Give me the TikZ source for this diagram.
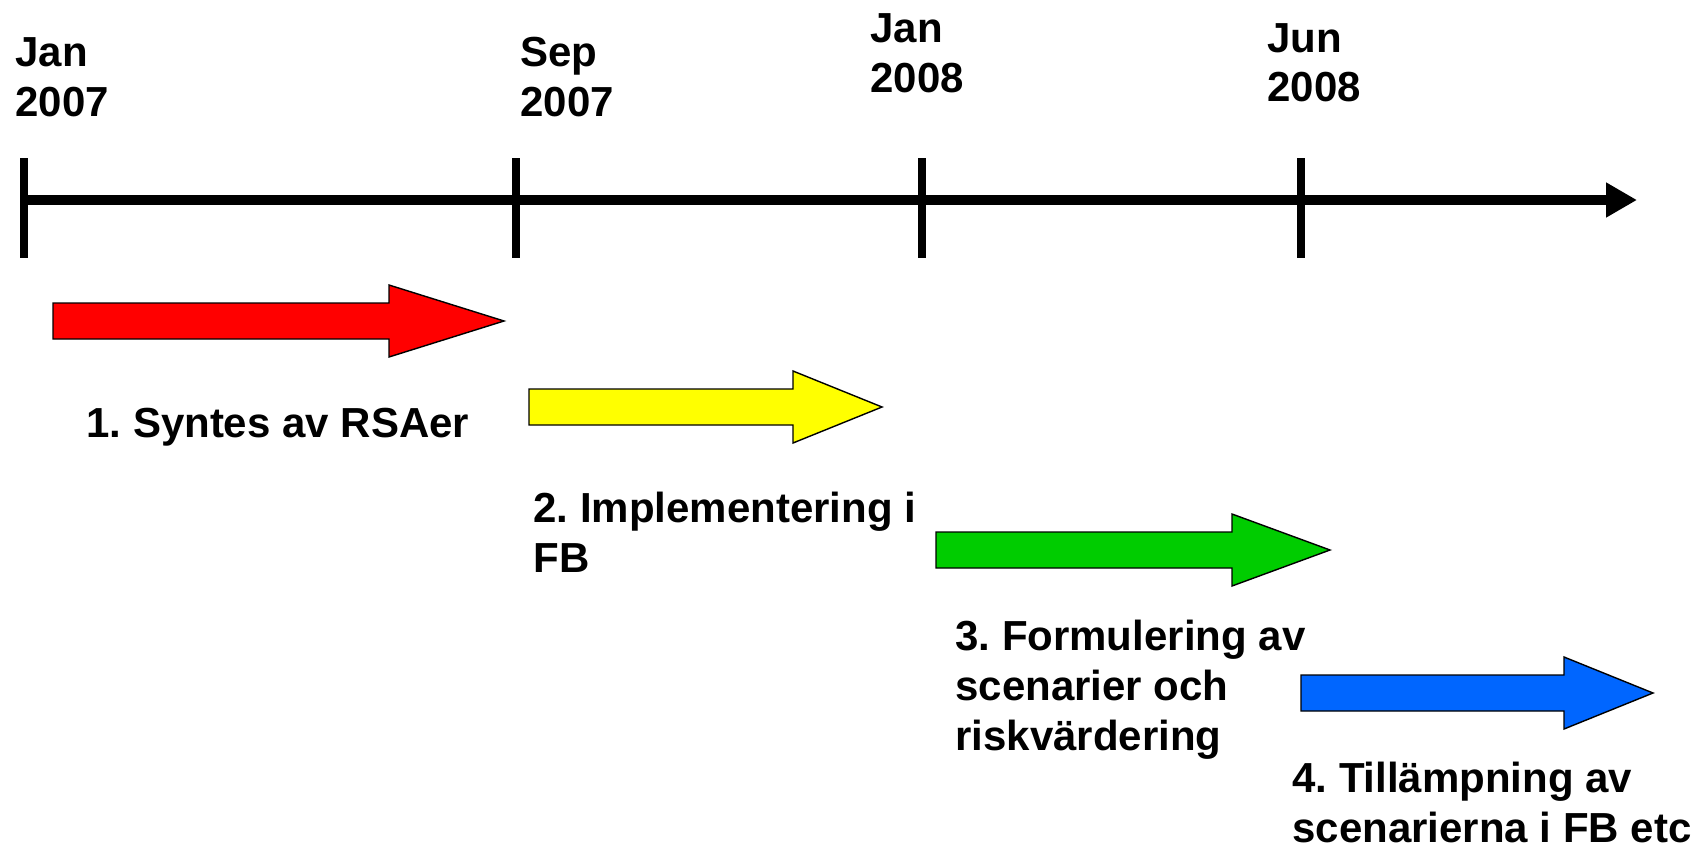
\documentclass[tikz,border=0pt]{standalone}
\usepackage{fontspec}
\setmainfont{Liberation Sans}
\usetikzlibrary{arrows.meta}

\definecolor{phasered}{HTML}{FF0000}
\definecolor{phaseyellow}{HTML}{FFFF00}
\definecolor{phasegreen}{HTML}{00CC00}
\definecolor{phaseblue}{HTML}{0066FF}

\frenchspacing

\begin{document}
\begin{tikzpicture}[
        x=0.02cm, y=-0.02cm,
        axis/.style={line width=0.2cm, -{Triangle[length=0.62cm, width=0.66cm]}},
        axistick/.style={line width=0.16cm},
        phase/.style={draw=black, line width=0.8pt, line join=miter},
        label/.style={font=\bfseries\fontsize{23.9}{28.45}\selectfont, inner sep=0pt, align=left, anchor=base west}
    ]
    \useasboundingbox (0,0) rectangle (1699,848);

    % time axis
    \coordinate (t0) at (24,200);
    \coordinate (t1) at (516,200);
    \coordinate (t2) at (922,200);
    \coordinate (t3) at (1301,200);
    \coordinate (tend) at (1637,200);
    \draw[axis] (t0) -- (tend);
    \foreach \t in {t0,t1,t2,t3}
        \draw[axistick] (\t) ++(0,-42) -- ++(0,100);

    % dates (anchored on the last line)
    \node[label] (d0) at (15,116)   {Jan\\2007};
    \node[label] (d1) at (520,116)  {Sep\\2007};
    \node[label] (d2) at (870,92)   {Jan\\2008};
    \node[label] (d3) at (1267,102) {Jun\\2008};

    % phases: colour / left / head base / tip / centre y
    \foreach \col/\xl/\xb/\xt/\yc in {phasered/53/389/504/321,
                                      phaseyellow/529/793/882/407,
                                      phasegreen/936/1232/1330/550,
                                      phaseblue/1301/1564/1653/693}
        \draw[phase, fill=\col] (\xl,\yc-18) -- (\xb,\yc-18) -- (\xb,\yc-36) -- (\xt,\yc)
            -- (\xb,\yc+36) -- (\xb,\yc+18) -- (\xl,\yc+18) -- cycle;

    \node[label] (p1) at (86,437)   {1. Syntes av RSAer};
    \node[label] (p2) at (533,572)  {2. Implementering i\\FB};
    \node[label] (p3) at (955,750)  {3. Formulering av\\scenarier och\\riskvärdering};
    \node[label] (p4) at (1292,842) {4. Tillämpning av\\scenarierna i FB etc};
\end{tikzpicture}
\end{document}
